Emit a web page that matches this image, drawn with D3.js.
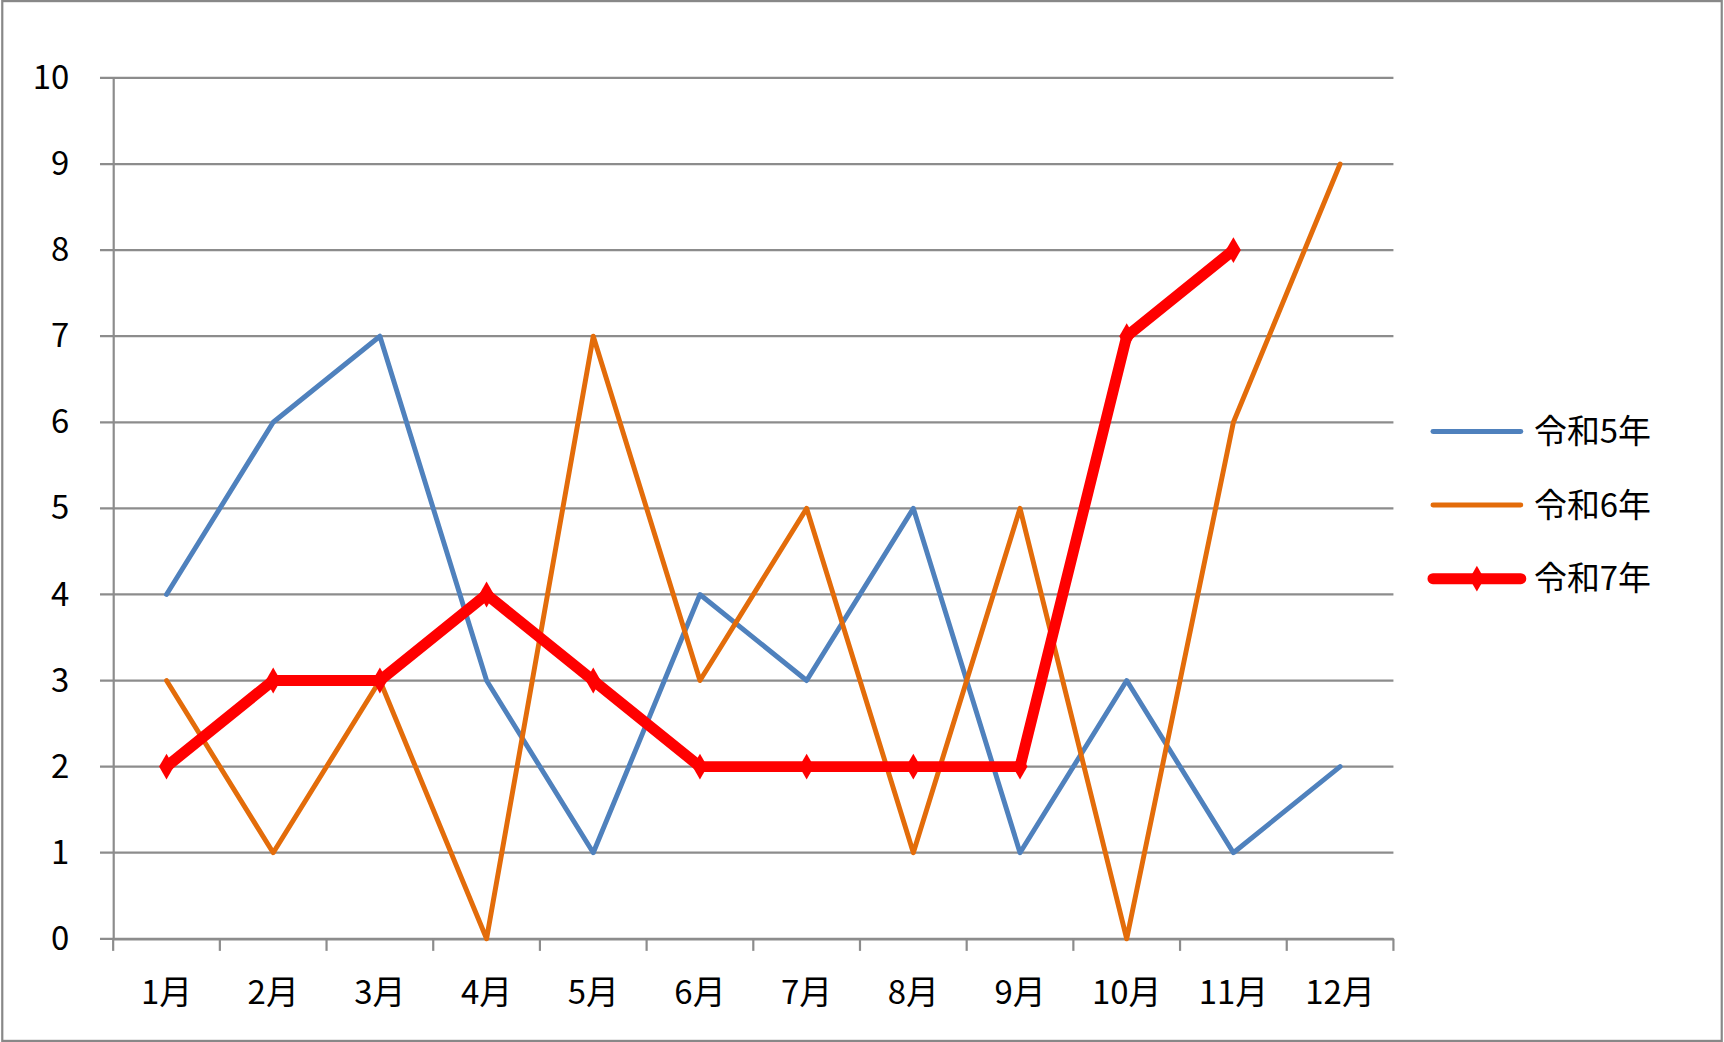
<!DOCTYPE html>
<html><head><meta charset="utf-8">
<script src="https://cdn.jsdelivr.net/npm/d3@7"></script>
<style>body{margin:0;background:#fff}</style>
</head><body>
<svg id="chart" width="1724" height="1042" viewBox="0 0 1568 949"></svg>
<script>
// chart data
var months = ['1月','2月','3月','4月','5月','6月','7月','8月','9月','10月','11月','12月'];
var yTicks = [0,1,2,3,4,5,6,7,8,9,10];
var r5 = [4,6,7,3,1,4,3,5,1,3,1,2];
var r6 = [3,1,3,0,7,3,5,1,5,0,6,9];
var r7 = [2,3,3,4,3,2,2,2,2,7,8];
var seriesNames = ['令和5年','令和6年','令和7年'];

var series = [
  {name: seriesNames[0], values: r5, color: '#4f81bd', width: 4.5},
  {name: seriesNames[1], values: r6, color: '#e36c0a', width: 4.5},
  {name: seriesNames[2], values: r7, color: '#ff0000', width: 10}
];

var svg = d3.select('#chart');
var font = '"Noto Sans CJK JP", "Noto Sans", sans-serif';

svg.append('rect').attr('x', 1).attr('y', 1).attr('width', 1566).attr('height', 947)
  .attr('fill', '#fff').attr('stroke', '#888').attr('stroke-width', 2);

var x = d3.scaleBand().domain(months).range([102, 1268]);
var y = d3.scaleLinear().domain([0, 10]).range([855, 71]);

// gridlines
svg.append('g').selectAll('line').data(yTicks).enter().append('line')
  .attr('x1', 90).attr('x2', 1268)
  .attr('y1', function(d) { return y(d); }).attr('y2', function(d) { return y(d); })
  .attr('stroke', '#8c8c8c').attr('stroke-width', 2);

// y axis
var yAxis = svg.append('g').attr('transform', 'translate(102,0)')
  .call(d3.axisLeft(y).tickValues(yTicks).tickSize(0).tickPadding(40));
yAxis.select('.domain').attr('stroke', '#8c8c8c').attr('stroke-width', 2);
yAxis.selectAll('text').attr('font-size', 30).attr('font-family', font).attr('fill', '#000');

// x axis
var xAxis = svg.append('g').attr('transform', 'translate(0,855)')
  .call(d3.axisBottom(x).tickSize(0).tickPadding(38));
xAxis.select('.domain').attr('stroke', '#8c8c8c').attr('stroke-width', 2);
xAxis.selectAll('text').attr('font-size', 30).attr('font-family', font).attr('fill', '#000');
xAxis.selectAll('line.sep').data(d3.range(months.length + 1)).enter().append('line')
  .attr('class', 'sep')
  .attr('x1', function(i) { return 102 + i * x.bandwidth(); })
  .attr('x2', function(i) { return 102 + i * x.bandwidth(); })
  .attr('y1', 0).attr('y2', 11).attr('stroke', '#8c8c8c').attr('stroke-width', 2);

var line = d3.line()
  .x(function(d, i) { return x(months[i]) + x.bandwidth() / 2; })
  .y(function(d) { return y(d); });

svg.append('g').selectAll('path').data(series).enter().append('path')
  .attr('d', function(s) { return line(s.values); })
  .attr('fill', 'none')
  .attr('stroke', function(s) { return s.color; })
  .attr('stroke-width', function(s) { return s.width; })
  .attr('stroke-linejoin', 'round').attr('stroke-linecap', 'round');

// small diamond markers on the thick red series
svg.append('g').selectAll('path').data(r7).enter().append('path')
  .attr('d', d3.symbol().type(d3.symbolDiamond).size(160))
  .attr('transform', function(d, i) {
    return 'translate(' + (x(months[i]) + x.bandwidth() / 2) + ',' + y(d) + ')';
  })
  .attr('fill', '#ff0000');

// legend
var legend = svg.append('g').selectAll('g').data(series).enter().append('g')
  .attr('transform', function(s, i) { return 'translate(1304,' + (393 + i * 67) + ')'; });
legend.append('line').attr('x1', 0).attr('x2', 80)
  .attr('stroke', function(s) { return s.color; })
  .attr('stroke-width', function(s) { return s.width; })
  .attr('stroke-linecap', 'round');
legend.filter(function(s, i) { return i === 2; }).append('path')
  .attr('d', d3.symbol().type(d3.symbolDiamond).size(160))
  .attr('transform', 'translate(40,0)').attr('fill', '#ff0000');
legend.append('text').attr('x', 92).attr('y', 0).attr('dy', '0.35em')
  .attr('font-size', 30).attr('font-family', font)
  .text(function(s) { return s.name; });
</script>
</body></html>
